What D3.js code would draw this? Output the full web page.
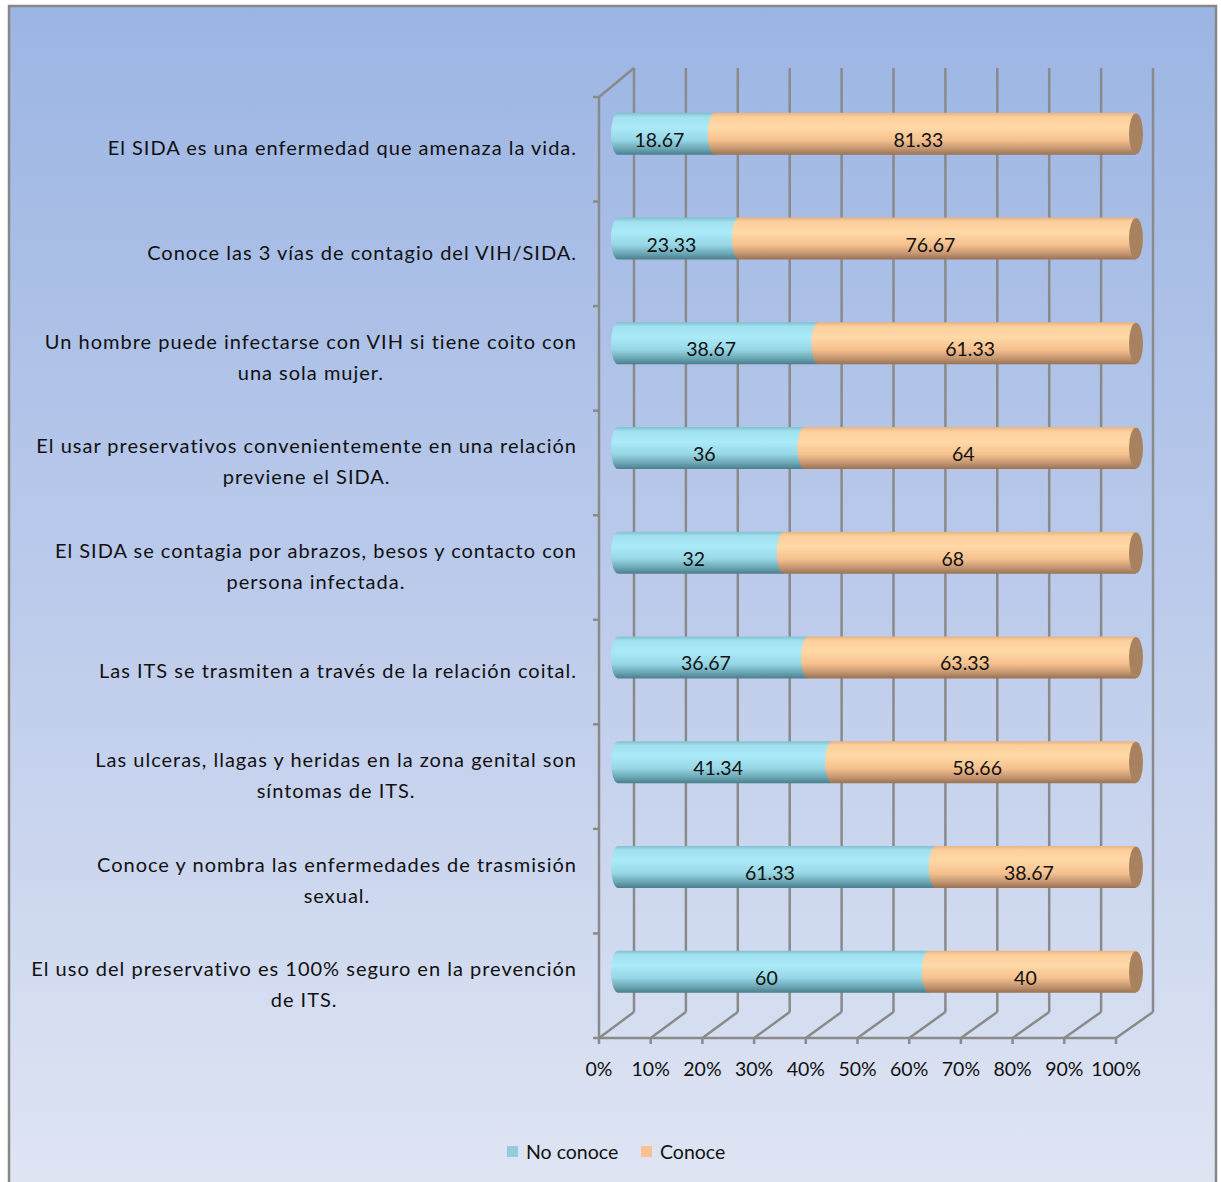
<!DOCTYPE html>
<html>
<head>
<meta charset="utf-8">
<script src="https://cdn.jsdelivr.net/npm/d3@7"></script>
<style>
  body { margin: 0; background: #fff; }
  svg { display: block; }
  text { font-family: Lato, "Open Sans", sans-serif; fill: #111; }
</style>
</head>
<body>
<svg id="chart" width="1221" height="1182"></svg>
<script>
// Survey statements (label lines), top to bottom
const categoryLines = [
  ["El SIDA es una enfermedad que amenaza la vida."],
  ["Conoce las 3 vías de contagio del VIH/SIDA."],
  ["Un hombre puede infectarse con VIH si tiene coito con", "una sola mujer."],
  ["El usar preservativos convenientemente en una relación", "previene el SIDA."],
  ["El SIDA se contagia por abrazos, besos y contacto con", "persona infectada."],
  ["Las ITS se trasmiten a través de la relación coital."],
  ["Las ulceras, llagas y heridas en la zona genital son", "síntomas de ITS."],
  ["Conoce y nombra las enfermedades de trasmisión", "sexual."],
  ["El uso del preservativo es 100% seguro en la prevención", "de ITS."]
];
const noConoce = [18.67, 23.33, 38.67, 36, 32, 36.67, 41.34, 61.33, 60];
const conoce   = [81.33, 76.67, 61.33, 64, 68, 63.33, 58.66, 38.67, 40];
const seriesNames = ["No conoce", "Conoce"];
const tickValues = [0, 10, 20, 30, 40, 50, 60, 70, 80, 90, 100];
const tickFormat = v => v + "%";

const svg = d3.select("#chart");
const defs = svg.append("defs");

// Panel background
const bg = defs.append("linearGradient").attr("id", "bgGrad")
  .attr("x1", 0).attr("y1", 0).attr("x2", 0).attr("y2", 1);
bg.append("stop").attr("offset", "0%").attr("stop-color", "#9bb5e3");
bg.append("stop").attr("offset", "50%").attr("stop-color", "#bccbeb");
bg.append("stop").attr("offset", "100%").attr("stop-color", "#dfe5f3");

// Cylinder shading for each series
function cylGrad(id, stops) {
  const g = defs.append("linearGradient").attr("id", id)
    .attr("x1", 0).attr("y1", 0).attr("x2", 0).attr("y2", 1);
  stops.forEach(([o, c]) => g.append("stop").attr("offset", o).attr("stop-color", c));
}
cylGrad("gradNo", [[0, "#7fc0cf"], [0.1, "#a0e0ef"], [0.35, "#abebf9"], [0.65, "#97d6e5"], [0.86, "#6aa6b4"], [1, "#4b7e8b"]]);
cylGrad("gradYes", [[0, "#e7b383"], [0.1, "#fdcf9c"], [0.35, "#ffd9a7"], [0.65, "#f5c18e"], [0.86, "#c39470"], [1, "#987252"]]);
const fills = ["url(#gradNo)", "url(#gradYes)"];
const legendColors = ["#93cddd", "#fac090"];
const capColor = "#a8825f";

svg.append("rect")
  .attr("x", 9).attr("y", 6).attr("width", 1207).attr("height", 1185)
  .attr("fill", "url(#bgGrad)").attr("stroke", "#878787").attr("stroke-width", 2.5);

// Plot box: front and back planes of the 3D frame
const front = { x0: 599, x1: 1116, y0: 97, y1: 1038 };
const back  = { x0: 634, x1: 1153, y0: 68, y1: 1012 };

const idx = d3.range(categoryLines.length);
const xFront = d3.scaleLinear().domain([0, 100]).range([front.x0, front.x1]);
const xBack  = d3.scaleLinear().domain([0, 100]).range([back.x0, back.x1]);
const yFront = d3.scaleBand().domain(idx).range([front.y0, front.y1]);
const yBack  = d3.scaleBand().domain(idx).range([back.y0, back.y1]);
// Bars sit at mid-depth
const xBar = d3.scaleLinear().domain([0, 100]).range([618, 1136]);
const barCenter = i => (yFront(i) + yFront.bandwidth() / 2 + yBack(i) + yBack.bandwidth() / 2) / 2 - 1;
const barH = 42, rx = 7, ry = barH / 2;

const gridColor = "#8a8a8a";
const grid = svg.append("g").attr("stroke", gridColor).attr("stroke-width", 2.5).attr("fill", "none");

// Back wall verticals
grid.selectAll(".vg").data(tickValues).join("line")
  .attr("x1", d => xBack(d)).attr("x2", d => xBack(d))
  .attr("y1", back.y0).attr("y2", back.y1);
// Floor diagonals
grid.selectAll(".fg").data(tickValues).join("line")
  .attr("x1", d => xFront(d)).attr("y1", front.y1)
  .attr("x2", d => xBack(d)).attr("y2", back.y1);
// Floor front edge
grid.append("line").attr("x1", front.x0).attr("x2", front.x1).attr("y1", front.y1).attr("y2", front.y1);
// Left wall: front vertical and top edge
grid.append("line").attr("x1", front.x0).attr("x2", front.x0).attr("y1", front.y0).attr("y2", front.y1);
grid.append("line").attr("x1", front.x0).attr("y1", front.y0).attr("x2", back.x0).attr("y2", back.y0);

// Category axis ticks
const yTicks = d3.range(categoryLines.length + 1).map(i => front.y0 + i * yFront.step());
grid.selectAll(".yt").data(yTicks).join("line")
  .attr("x1", front.x0 - 6).attr("x2", front.x0).attr("y1", d => d).attr("y2", d => d);
// Value axis ticks
grid.selectAll(".xt").data(tickValues).join("line")
  .attr("x1", d => xFront(d)).attr("x2", d => xFront(d))
  .attr("y1", front.y1).attr("y2", front.y1 + 6);

// Value axis labels
svg.append("g").selectAll("text").data(tickValues).join("text")
  .attr("x", d => xFront(d)).attr("y", front.y1 + 38)
  .attr("text-anchor", "middle").attr("font-size", 19.5)
  .text(tickFormat);

// Stacked cylinders
const rows = idx.map(i => {
  const a = noConoce[i], b = conoce[i];
  return [{ s: 0, x0: 0, x1: a, v: a }, { s: 1, x0: a, x1: a + b, v: b }];
});

const bars = svg.append("g");
idx.forEach(i => {
  const cy = barCenter(i), top = cy - ry, bot = cy + ry;
  const g = bars.append("g");
  rows[i].forEach(seg => {
    const xa = xBar(seg.x0), xb = xBar(seg.x1);
    // Body with curved left end (ellipse arc bulging left)
    const p = `M${xb},${top} L${xa},${top} A${rx},${ry} 0 0 0 ${xa},${bot} L${xb},${bot} Z`;
    g.append("path").attr("d", p).attr("fill", fills[seg.s]);
  });
  // End cap of the cylinder
  const xe = xBar(rows[i][1].x1);
  g.append("ellipse").attr("cx", xe).attr("cy", cy).attr("rx", rx).attr("ry", ry - 0.5)
    .attr("fill", capColor);
  // Value labels
  g.selectAll("text").data(rows[i]).join("text")
    .attr("x", d => (xBar(d.x0) + xBar(d.x1)) / 2 - 7)
    .attr("y", cy + 13)
    .attr("text-anchor", "middle").attr("font-size", 19.5)
    .text(d => d.v);
});

// Category labels: block right-aligned, lines centered inside the block
const labelRight = 577, lineGap = 31;
const labels = svg.append("g").attr("font-size", 20).attr("letter-spacing", 1.0);
idx.forEach(i => {
  const lines = categoryLines[i];
  const cy = yFront(i) + yFront.bandwidth() / 2 - 1;
  const tmp = labels.append("text").text(lines[0]);
  const w = tmp.node().getComputedTextLength();
  tmp.remove();
  const cx = labelRight - w / 2;
  const y0 = cy - (lines.length - 1) * lineGap / 2 + 7;
  lines.forEach((ln, k) => {
    labels.append("text").attr("text-anchor", "middle")
      .attr("x", cx).attr("y", y0 + k * lineGap).text(ln);
  });
});

// Legend
const legend = svg.append("g").attr("transform", "translate(507,1146)");
const lx = [0, 134];
seriesNames.forEach((n, k) => {
  legend.append("rect").attr("x", lx[k]).attr("y", 0).attr("width", 11).attr("height", 11)
    .attr("fill", legendColors[k]);
  legend.append("text").attr("x", lx[k] + 19).attr("y", 13).attr("font-size", 19.5).text(n);
});
</script>
</body>
</html>
